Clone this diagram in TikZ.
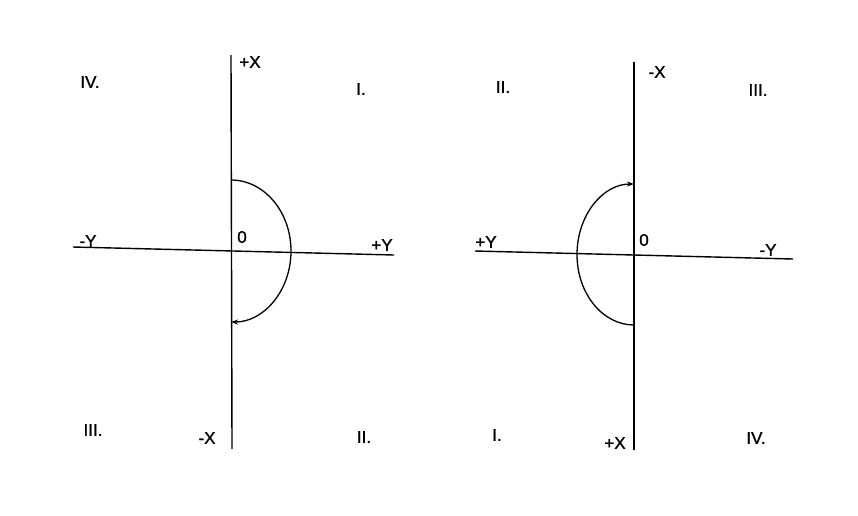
\documentclass[tikz,border=0pt]{standalone}
\usepackage{fontspec}
\setmainfont{Liberation Sans}
\newfontfamily\lblfont[FakeBold=1.2]{Liberation Sans}
\usetikzlibrary{arrows.meta}
\begin{document}
\begin{tikzpicture}[x=1pt,y=-1pt,
  axis/.style={line width=1.4pt,black},
  curve/.style={line width=1.3pt,black},
  lbl/.style={font=\lblfont\fontsize{17}{17}\selectfont,inner sep=0pt,anchor=center},
  tip/.style={-{Stealth[length=7pt,width=5pt]}}]
\useasboundingbox (0,0) rectangle (858,515);
% left diagram
\coordinate (LT) at (231,55);
\coordinate (LB) at (232,449);
\coordinate (LL) at (73,247);
\coordinate (LR) at (394,255);
\coordinate (LA) at (231,180);
\draw[axis] (LT) -- (LB);
\draw[axis] (LL) -- (LR);
\draw[curve,tip] (LA) arc[start angle=90,end angle=-90,x radius=60pt,y radius=71pt];
\node[lbl] (lpx) at (250,62) {+X};
\node[lbl] (lmx) at (207,438) {-X};
\node[lbl] (lmy) at (88,241) {-Y};
\node[lbl] (lpy) at (382,245) {+Y};
\node[lbl] (lo) at (242,237) {0};
\node[lbl] (l4) at (90,82) {IV.};
\node[lbl] (l1) at (361,89) {I.};
\node[lbl] (l3) at (93,430) {III.};
\node[lbl] (l2) at (364,437) {II.};
% right diagram
\coordinate (RT) at (634,62);
\coordinate (RB) at (634,450);
\coordinate (RL) at (475,251);
\coordinate (RR) at (793,259);
\coordinate (RA) at (634,325);
\draw[axis] (RT) -- (RB);
\draw[axis] (RL) -- (RR);
\draw[curve,tip] (RA) arc[start angle=270,end angle=90,x radius=57pt,y radius=70.5pt];
\node[lbl] (rmx) at (657,72) {-X};
\node[lbl] (rpx) at (615,443) {+X};
\node[lbl] (rpy) at (486,242) {+Y};
\node[lbl] (rmy) at (768,250) {-Y};
\node[lbl] (ro) at (644,240) {0};
\node[lbl] (r2) at (503,87) {II.};
\node[lbl] (r3) at (758,90) {III.};
\node[lbl] (r1) at (497,435) {I.};
\node[lbl] (r4) at (756,438) {IV.};
\end{tikzpicture}
\end{document}
